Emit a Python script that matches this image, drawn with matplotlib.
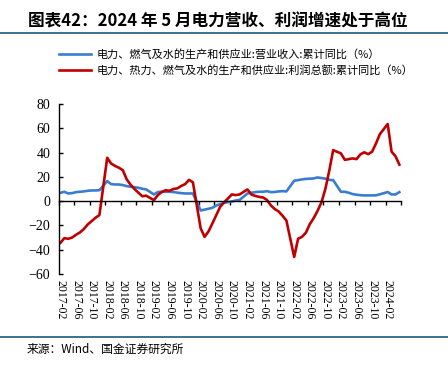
import matplotlib
matplotlib.use("Agg")
import matplotlib.pyplot as plt
from matplotlib.lines import Line2D
import numpy as np

plt.rcParams['font.family'] = ['Noto Sans CJK SC', 'DejaVu Sans']

# monthly data, January not published (Jan-Feb combined)
months = (
    [f"2017-{m:02d}" for m in range(2, 13)]
    + [f"2018-{m:02d}" for m in range(2, 13)]
    + [f"2019-{m:02d}" for m in range(2, 13)]
    + [f"2020-{m:02d}" for m in range(2, 13)]
    + [f"2021-{m:02d}" for m in range(2, 13)]
    + [f"2022-{m:02d}" for m in range(2, 13)]
    + [f"2023-{m:02d}" for m in range(2, 13)]
    + [f"2024-{m:02d}" for m in range(2, 6)]
)

revenue = [
    6.9, 7.7, 6.3, 6.6, 7.4, 7.7, 8.0, 8.5, 8.8, 8.8, 9.0,
    16.5, 14.0, 13.7, 13.7, 13.2, 12.4, 11.8, 11.5, 11.0, 10.2, 9.6,
    5.5, 7.5, 7.7, 7.7, 7.7, 7.5, 7.0, 6.6, 6.3, 6.3, 6.3,
    -7.7, -7.0, -6.3, -5.5, -3.6, -2.5, -1.5, -0.8, -0.3, 0.5, 1.0,
    6.3, 6.9, 7.4, 7.7, 7.7, 8.2, 7.4, 7.5, 8.0, 8.2, 8.0,
    16.8, 17.3, 17.9, 18.3, 18.5, 18.7, 19.5, 19.0, 18.5, 17.5, 17.3,
    7.7, 7.7, 6.9, 5.8, 5.3, 4.9, 4.7, 4.7, 4.7, 4.8, 5.6,
    7.5, 5.5, 5.5, 7.4,
]

profit = [
    -34.3, -30.5, -31.0, -30.0, -27.7, -25.8, -23.0, -19.2, -16.5, -13.7, -11.5,
    35.7, 31.0, 29.0, 27.5, 25.5, 18.0, 13.5, 10.0, 7.0, 4.0, 4.5,
    0.8, 5.0, 7.5, 9.0, 8.5, 10.0, 10.5, 12.5, 14.0, 17.5, 15.5,
    -22.5, -29.4, -25.0, -18.4, -11.5, -4.7, -1.0, 2.2, 5.5, 5.0, 5.5,
    9.6, 5.5, 4.3, 3.5, 3.0, 1.0, -3.5, -6.5, -8.5, -12.0, -16.0,
    -46.0, -31.0, -29.4, -26.0, -19.0, -14.0, -8.0, -1.0, 10.0, 25.0, 42.0,
    39.3, 34.0, 34.6, 35.2, 34.6, 38.5, 40.2, 38.7, 40.7, 47.5, 55.2,
    63.5, 40.7, 37.0, 30.0,
]

label_rev = "电力、燃气及水的生产和供应业:营业收入:累计同比（%）"
label_pro = "电力、热力、燃气及水的生产和供应业:利润总额:累计同比（%）"
title = "图表42：2024 年 5 月电力营收、利润增速处于高位"
source = "来源：Wind、国金证券研究所"

# month index counted from 2017-02 (one category per calendar month)
x = np.array([(int(s[:4]) - 2017) * 12 + int(s[5:]) - 2 for s in months])
n_cat = x[-1] + 1

fig = plt.figure(figsize=(4.48, 3.69), dpi=100)
ax = fig.add_axes([0.1306, 0.2575, 0.7652, 0.4607])

blue = "#3A7DD0"
red = "#C00000"
l1, = ax.plot(x, revenue, color=blue, lw=1.9, solid_joinstyle='round')
l2, = ax.plot(x, profit, color=red, lw=1.9, solid_joinstyle='round')

ax.set_xlim(-0.5, n_cat - 0.5)
ax.set_ylim(-60, 80)
ax.set_yticks(np.arange(-60, 81, 20))
ax.tick_params(axis='y', direction='in', length=3, width=1, labelsize=10,
               pad=6, labelfontfamily='Liberation Serif')

# category boundaries every 4 months on the zero line
ax.spines['top'].set_visible(False)
ax.spines['right'].set_visible(False)
ax.spines['bottom'].set_position(('data', 0))
ax.spines['left'].set_linewidth(1)
ax.spines['bottom'].set_linewidth(1)
ax.set_xticks(np.arange(-0.5, n_cat, 4))
ax.set_xticklabels([])
ax.tick_params(axis='x', direction='out', length=3, width=1)

# labels at the bottom of the plot area, centred on the categories
sec = ax.secondary_xaxis('bottom')
pos = np.arange(0, n_cat, 4)
names = [f"{2017 + (p + 1) // 12}-{(p + 1) % 12 + 1:02d}" for p in pos]
sec.set_xticks(pos, labels=names)
sec.tick_params(length=0, pad=4, labelsize=8.5, labelrotation=270,
                labelfontfamily='Liberation Serif')
sec.spines['bottom'].set_visible(False)

fig.text(28 / 448, 1 - 21 / 369, title, fontsize=12, fontweight='bold',
         va='center', ha='left')
line_c = "#2E6585"
fig.add_artist(Line2D([0, 1], [1 - 33 / 369] * 2, color=line_c, lw=1.3))
fig.add_artist(Line2D([0, 1], [1 - 336.5 / 369] * 2, color=line_c, lw=1.3))

fig.legend([l1, l2], [label_rev, label_pro], loc='upper left',
           bbox_to_anchor=(59 / 448, 1 - 49 / 369), frameon=False,
           fontsize=8, handlelength=2.9, handletextpad=0.45,
           borderpad=0, borderaxespad=0, labelspacing=0.5)

fig.text(27 / 448, 1 - 349 / 369, source, fontsize=8.5, va='center', ha='left')

fig.savefig("out.png", dpi=100)
